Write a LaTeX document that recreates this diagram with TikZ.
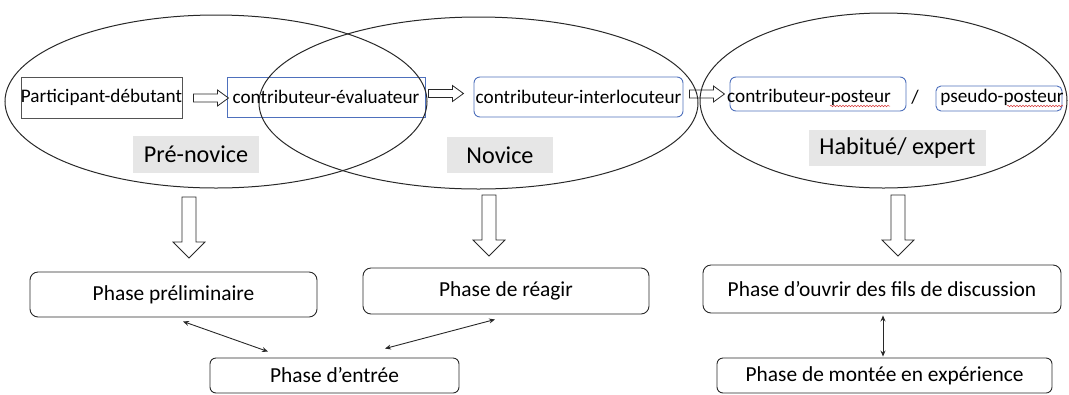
\documentclass[tikz,border=0pt]{standalone}
\usepackage{fontspec}
\setmainfont{Carlito}
\usetikzlibrary{shapes.geometric,arrows.meta,calc,decorations.pathmorphing}
\definecolor{boxblue}{RGB}{78,112,188}
\definecolor{lblgray}{RGB}{230,230,230}
\definecolor{linegray}{RGB}{40,40,40}
\definecolor{spellred}{RGB}{215,60,60}
\begin{document}
\begin{tikzpicture}[x=1bp,y=-1bp,
  ell/.style={ellipse, draw=linegray, line width=1bp, inner sep=0pt},
  topbox/.style={draw=boxblue, line width=0.9bp, inner sep=0pt, font=\fontsize{19.2bp}{23bp}\selectfont},
  toptext/.style={inner sep=0pt, font=\fontsize{19.2bp}{23bp}\selectfont},
  stagelbl/.style={fill=lblgray, inner sep=0pt, font=\fontsize{24.2bp}{29bp}\selectfont},
  phasebox/.style={draw=linegray, line width=0.9bp, rounded corners=8bp, inner sep=0pt, font=\fontsize{21.4bp}{25bp}\selectfont},
  dbl/.style={{Stealth[length=6bp,width=5bp]}-{Stealth[length=6bp,width=5bp]}, line width=0.9bp, draw=linegray},
  spell/.style={draw=spellred, line width=0.5bp, decorate, decoration={snake, amplitude=0.8bp, segment length=3bp}},
  harrow/.pic={\draw[line width=0.8bp, draw=linegray, fill=white] (0,-4) -- (24,-4) -- (24,-8) -- (35,0) -- (24,8) -- (24,4) -- (0,4) -- cycle;},
  varrow/.pic={\draw[line width=0.8bp, draw=linegray, fill=white] (-7,0) -- (7,0) -- (7,45) -- (16,45) -- (0,61) -- (-16,45) -- (-7,45) -- cycle;}
]
\useasboundingbox (0,0) rectangle (1069,394);

% stage labels
\node[stagelbl, minimum width=126bp, minimum height=37bp] (l1) at (196,154.5) {Pré-novice};
\node[stagelbl, minimum width=106bp, minimum height=36bp] (l2) at (500,155) {Novice};
\node[stagelbl, minimum width=177bp, minimum height=36bp] (l3) at (897.5,148) {Habitué/ expert};

% top boxes
\node[topbox, draw=linegray!80, minimum width=161bp, minimum height=41bp] (b1) at (101.5,97.5) {Participant-débutant};
\node[topbox, minimum width=198bp, minimum height=40bp] (b2) at (326,97) {contributeur-évaluateur};
\node[topbox, rounded corners=6bp, minimum width=209bp, minimum height=40bp] (b3) at (578.5,97) {contributeur-interlocuteur};
\node[topbox, rounded corners=6bp, minimum width=176bp, minimum height=34bp] (b4) at (818,94) {};
\node[toptext, anchor=west] (t4) at (727,97) {contributeur-posteur};
\node[toptext] (sl) at (915,97) {/};
\node[topbox, rounded corners=5bp, minimum width=126bp, minimum height=25bp] (b5) at (999,98.5) {};
\node[toptext] (t5) at (1002,97) {pseudo-posteur};
\draw[spell] (830,106) -- (890,106);
\draw[spell] (1007,106) -- (1063,106);

% horizontal block arrows
\pic at ($(b1.east)+(11,0.5)$) {harrow};
\pic at ($(b2.east)+(3,-3.5)$) {harrow};
\pic at ($(b3.east)+(6,-3)$) {harrow};

% ellipses
\node[ell, minimum width=422bp, minimum height=173bp] (e1) at (216,101.5) {};
\node[ell, minimum width=439bp, minimum height=172bp] (e2) at (478.5,103) {};
\node[ell, minimum width=367bp, minimum height=175bp] (e3) at (883.5,100.5) {};

% down block arrows
\pic at (189,197) {varrow};
\pic at (489,195) {varrow};
\pic at (898,195) {varrow};

% phase boxes
\node[phasebox, minimum width=287bp, minimum height=45bp] (p1) at (173.5,294.5) {Phase préliminaire};
\node[phasebox, minimum width=286bp, minimum height=46bp] (p2) at (506,291) {Phase de réagir};
\node[phasebox, rounded corners=6bp, minimum width=249bp, minimum height=35bp] (p3) at (334.5,375.5) {Phase d’entrée};
\node[phasebox, minimum width=358bp, minimum height=48bp] (p4) at (882,289) {Phase d’ouvrir des fils de discussion};
\node[phasebox, rounded corners=6bp, minimum width=335bp, minimum height=35bp] (p5) at (884.5,375.5) {Phase de montée en expérience};

% double arrows
\draw[dbl] ($(p1.south)+(9.5,4)$) -- ($(p3.north)+(-66.5,-6)$);
\draw[dbl] ($(p2.south)+(-11,5)$) -- ($(p3.north)+(50.5,-9)$);
\draw[dbl] ($(p4.south)+(1,2)$) -- ($(p5.north)+(-1.5,-1)$);
\end{tikzpicture}
\end{document}
